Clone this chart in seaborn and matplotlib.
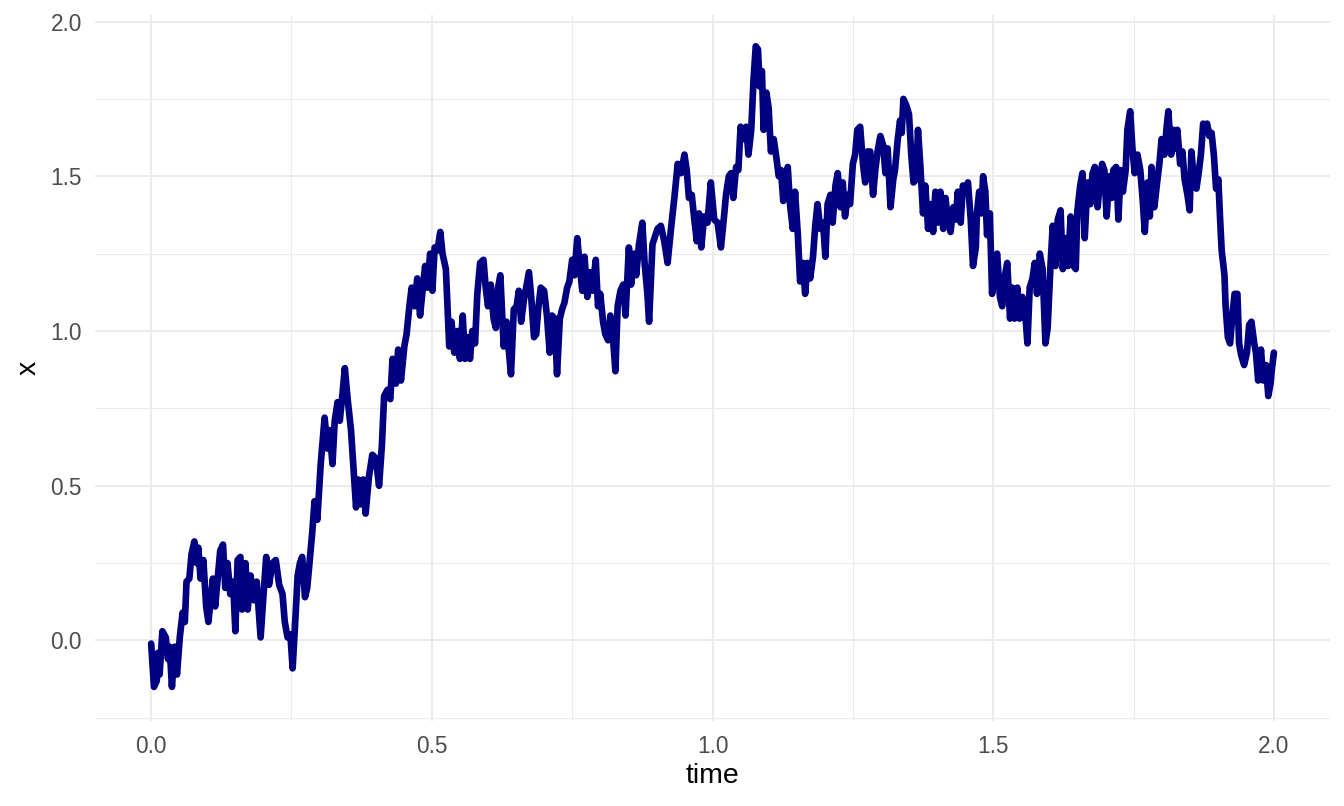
import numpy as np
import pandas as pd
import matplotlib
matplotlib.use("Agg")
import matplotlib.pyplot as plt
import seaborn as sns

# Path values
time = [
    0.000, 0.005, 0.010, 0.012, 0.015, 0.020, 0.026, 0.030, 0.033, 0.037,
    0.042, 0.046, 0.051, 0.056, 0.060, 0.063, 0.068, 0.072, 0.077, 0.081,
    0.084, 0.088, 0.093, 0.098, 0.102, 0.106, 0.110, 0.114, 0.119, 0.123,
    0.128, 0.132, 0.136, 0.141, 0.146, 0.150, 0.154, 0.159, 0.162, 0.168,
    0.172, 0.177, 0.183, 0.188, 0.195, 0.201, 0.205, 0.210, 0.216, 0.222,
    0.228, 0.234, 0.238, 0.243, 0.248, 0.252, 0.256, 0.261, 0.265, 0.269,
    0.274, 0.278, 0.283, 0.287, 0.291, 0.296,
    0.302, 0.309, 0.314, 0.318, 0.323, 0.327, 0.332, 0.336, 0.341, 0.345,
    0.350, 0.356, 0.360, 0.365, 0.369, 0.373, 0.378, 0.382, 0.388, 0.394,
    0.400, 0.406, 0.411, 0.415, 0.421, 0.426, 0.430, 0.436, 0.440, 0.445,
    0.451, 0.455, 0.460, 0.464, 0.469, 0.474, 0.479, 0.483, 0.488, 0.492,
    0.497, 0.501, 0.505, 0.510, 0.515, 0.519, 0.525, 0.531, 0.535, 0.540,
    0.546, 0.550, 0.555, 0.559, 0.564, 0.568, 0.572, 0.577, 0.581, 0.586,
    0.592, 0.596, 0.600, 0.605, 0.610, 0.614, 0.618,
    0.622, 0.628, 0.633, 0.637, 0.641, 0.646, 0.651, 0.655, 0.659, 0.664,
    0.669, 0.673, 0.677, 0.682, 0.686, 0.690, 0.694, 0.700, 0.705, 0.710,
    0.714, 0.719, 0.723, 0.728, 0.732, 0.736, 0.741, 0.745, 0.750, 0.754,
    0.759, 0.763, 0.768, 0.772, 0.777, 0.781, 0.786, 0.792, 0.796, 0.800,
    0.805, 0.809, 0.814, 0.818, 0.823, 0.827, 0.831, 0.836, 0.841, 0.845,
    0.851, 0.855, 0.860, 0.864, 0.869, 0.875, 0.879, 0.884, 0.887,
    0.893, 0.902, 0.908, 0.914, 0.920, 0.926, 0.932, 0.938, 0.944, 0.950,
    0.954, 0.958, 0.963, 0.967, 0.972, 0.976, 0.980, 0.985, 0.991, 0.997,
    1.003, 1.009, 1.015, 1.021,
    1.024, 1.029, 1.033, 1.037, 1.042, 1.046, 1.050, 1.055, 1.060, 1.064,
    1.069, 1.073, 1.077, 1.081, 1.084, 1.088, 1.091, 1.096, 1.100, 1.104,
    1.109, 1.113, 1.118, 1.122, 1.126, 1.131, 1.134, 1.138, 1.143, 1.147,
    1.152, 1.156, 1.161, 1.165, 1.169, 1.174, 1.179, 1.183, 1.187, 1.192,
    1.197, 1.201, 1.205, 1.210, 1.214, 1.219, 1.223, 1.228, 1.232, 1.236,
    1.241, 1.245, 1.250, 1.254, 1.258, 1.263, 1.268, 1.272, 1.276, 1.281,
    1.286, 1.290, 1.294,
    1.299, 1.304, 1.308, 1.312, 1.317, 1.322, 1.325, 1.330, 1.334, 1.337,
    1.340, 1.345, 1.350, 1.354, 1.358, 1.363, 1.366, 1.370, 1.375, 1.379,
    1.384, 1.388, 1.393, 1.397, 1.401, 1.406, 1.411, 1.415, 1.419, 1.424,
    1.429, 1.433, 1.437, 1.442, 1.446, 1.451, 1.455, 1.460, 1.464, 1.469,
    1.471, 1.475, 1.479, 1.482, 1.486, 1.489, 1.494, 1.498, 1.502, 1.507,
    1.512, 1.516, 1.520, 1.525, 1.530, 1.534, 1.538, 1.543, 1.547, 1.552,
    1.556, 1.561, 1.565, 1.570, 1.574, 1.578, 1.583, 1.588, 1.593, 1.597,
    1.602, 1.606, 1.611, 1.615, 1.620, 1.624, 1.629, 1.633,
    1.638, 1.643, 1.647, 1.650, 1.655, 1.659, 1.663, 1.668, 1.673, 1.677,
    1.681, 1.686, 1.691, 1.694, 1.698, 1.702, 1.707, 1.711, 1.714, 1.719,
    1.723, 1.727, 1.731, 1.736, 1.739, 1.744, 1.748, 1.752, 1.757, 1.762,
    1.766, 1.770, 1.775, 1.779, 1.782, 1.787, 1.792, 1.796, 1.800, 1.805,
    1.809, 1.812, 1.817, 1.821, 1.825, 1.828, 1.833, 1.837, 1.841, 1.846,
    1.850, 1.853, 1.857, 1.862, 1.866, 1.870, 1.874, 1.877, 1.881, 1.885,
    1.889, 1.893, 1.897, 1.901, 1.904, 1.907, 1.912, 1.914, 1.918, 1.922,
    1.926, 1.930, 1.935, 1.938, 1.942, 1.947, 1.952, 1.956, 1.960, 1.965,
    1.968, 1.972, 1.977, 1.981, 1.986, 1.990, 1.994, 1.996, 2.000,
]

x = [
    -0.01, -0.15, -0.13, -0.04, -0.11, 0.03, 0.01, -0.06, -0.02, -0.15,
    -0.02, -0.11, 0.01, 0.09, 0.06, 0.19, 0.20, 0.28, 0.32, 0.25,
    0.30, 0.20, 0.26, 0.11, 0.06, 0.13, 0.20, 0.11, 0.21, 0.29,
    0.31, 0.17, 0.25, 0.15, 0.19, 0.03, 0.26, 0.27, 0.10, 0.25,
    0.10, 0.21, 0.13, 0.19, 0.01, 0.17, 0.27, 0.18, 0.25, 0.26,
    0.18, 0.15, 0.06, 0.01, 0.02, -0.09, 0.04, 0.21, 0.25, 0.27,
    0.14, 0.17, 0.27, 0.35, 0.45, 0.39,
    0.57, 0.72, 0.62, 0.68, 0.57, 0.71, 0.77, 0.71, 0.80, 0.88,
    0.78, 0.68, 0.57, 0.43, 0.52, 0.44, 0.52, 0.41, 0.53, 0.60,
    0.59, 0.50, 0.63, 0.79, 0.81, 0.78, 0.91, 0.83, 0.94, 0.84,
    0.95, 0.99, 1.08, 1.14, 1.08, 1.17, 1.05, 1.12, 1.21, 1.14,
    1.25, 1.13, 1.27, 1.26, 1.32, 1.25, 1.20, 0.95, 1.03, 0.93,
    1.00, 0.91, 1.05, 0.91, 0.98, 0.91, 1.00, 0.96, 1.12, 1.22,
    1.23, 1.14, 1.08, 1.15, 1.04, 1.01, 1.14,
    1.18, 0.95, 1.03, 0.94, 0.86, 1.07, 1.08, 1.13, 1.03, 1.10,
    1.15, 1.19, 1.11, 0.98, 0.99, 1.08, 1.14, 1.13, 1.05, 0.93,
    1.05, 1.04, 0.86, 1.04, 1.07, 1.09, 1.14, 1.16, 1.23, 1.18,
    1.30, 1.22, 1.13, 1.24, 1.11, 1.19, 1.13, 1.23, 1.08, 1.12,
    1.03, 0.99, 0.97, 1.05, 0.97, 0.87, 1.08, 1.13, 1.15, 1.05,
    1.27, 1.15, 1.25, 1.18, 1.28, 1.35, 1.22, 1.12, 1.03,
    1.28, 1.33, 1.34, 1.29, 1.22, 1.33, 1.43, 1.54, 1.51, 1.57,
    1.52, 1.43, 1.44, 1.37, 1.29, 1.38, 1.27, 1.37, 1.35, 1.48,
    1.36, 1.35, 1.27, 1.38,
    1.44, 1.50, 1.51, 1.43, 1.53, 1.52, 1.66, 1.62, 1.66, 1.57,
    1.65, 1.81, 1.92, 1.91, 1.79, 1.84, 1.65, 1.77, 1.72, 1.58,
    1.62, 1.57, 1.50, 1.52, 1.42, 1.47, 1.53, 1.41, 1.33, 1.45,
    1.31, 1.16, 1.22, 1.12, 1.22, 1.17, 1.24, 1.34, 1.41, 1.33,
    1.35, 1.24, 1.41, 1.44, 1.35, 1.47, 1.51, 1.40, 1.48, 1.37,
    1.44, 1.41, 1.54, 1.57, 1.65, 1.66, 1.54, 1.48, 1.58, 1.58,
    1.44, 1.52, 1.58,
    1.63, 1.60, 1.51, 1.59, 1.40, 1.49, 1.52, 1.62, 1.68, 1.64,
    1.75, 1.73, 1.70, 1.57, 1.48, 1.49, 1.65, 1.54, 1.38, 1.47,
    1.33, 1.41, 1.32, 1.45, 1.35, 1.45, 1.33, 1.43, 1.36, 1.32,
    1.40, 1.36, 1.45, 1.35, 1.47, 1.45, 1.48, 1.36, 1.21, 1.27,
    1.38, 1.45, 1.38, 1.50, 1.45, 1.31, 1.38, 1.12, 1.21, 1.25,
    1.11, 1.08, 1.17, 1.22, 1.04, 1.14, 1.04, 1.14, 1.04, 1.11,
    1.08, 0.96, 1.14, 1.17, 1.22, 1.12, 1.25, 1.20, 0.96, 1.01,
    1.21, 1.34, 1.21, 1.36, 1.39, 1.20, 1.30, 1.21,
    1.37, 1.21, 1.20, 1.39, 1.47, 1.51, 1.30, 1.48, 1.41, 1.51,
    1.53, 1.40, 1.50, 1.54, 1.52, 1.37, 1.50, 1.43, 1.52, 1.53,
    1.36, 1.52, 1.45, 1.52, 1.65, 1.71, 1.59, 1.51, 1.57, 1.52,
    1.43, 1.32, 1.48, 1.37, 1.53, 1.40, 1.48, 1.54, 1.62, 1.57,
    1.66, 1.71, 1.57, 1.65, 1.59, 1.65, 1.54, 1.58, 1.49, 1.44,
    1.39, 1.58, 1.50, 1.46, 1.51, 1.57, 1.67, 1.66, 1.67, 1.63,
    1.64, 1.57, 1.46, 1.49, 1.37, 1.26, 1.18, 1.08, 0.98, 0.96,
    1.05, 1.12, 1.12, 0.96, 0.92, 0.89, 0.93, 1.02, 1.03, 0.96,
    0.93, 0.84, 0.94, 0.84, 0.89, 0.79, 0.83, 0.87, 0.93,
]

x_ticks = [0.0, 0.5, 1.0, 1.5, 2.0]
y_ticks = [0.0, 0.5, 1.0, 1.5, 2.0]
x_minor = [0.25, 0.75, 1.25, 1.75]
y_minor = [-0.25, 0.25, 0.75, 1.25, 1.75]

df = pd.DataFrame({"time": time, "x": x})

sns.set_style("white")
plt.rcParams["font.family"] = ["Liberation Sans", "DejaVu Sans"]

fig, ax = plt.subplots(figsize=(13.44, 8.06), dpi=100)
fig.subplots_adjust(left=0.0707, right=0.9896, top=0.981, bottom=0.1055)

ax.set_xticks(x_ticks)
ax.set_xticks(x_minor, minor=True)
ax.set_yticks(y_ticks)
ax.set_yticks(y_minor, minor=True)
ax.set_xticklabels([f"{v:.1f}" for v in x_ticks])
ax.set_yticklabels([f"{v:.1f}" for v in y_ticks])
ax.grid(which="major", color="#EBEBEB", linewidth=1.5)
ax.grid(which="minor", color="#EBEBEB", linewidth=0.8)
ax.set_axisbelow(True)

sns.lineplot(data=df, x="time", y="x", color="#000080", linewidth=4.8,
             estimator=None, sort=False, ax=ax, solid_joinstyle="round")

ax.set_xlim(-0.1, 2.1)
ax.set_ylim(-0.26, 2.02)
for s in ax.spines.values():
    s.set_visible(False)
ax.tick_params(which="both", length=0, labelsize=16.3, labelcolor="#4D4D4D")
ax.tick_params(axis="x", pad=10)
ax.tick_params(axis="y", pad=9.5)
ax.set_xlabel("time", fontsize=20.5, color="black", labelpad=4)
ax.set_ylabel("x", fontsize=20.5, color="black", labelpad=6)

fig.savefig("out.png", dpi=100)
